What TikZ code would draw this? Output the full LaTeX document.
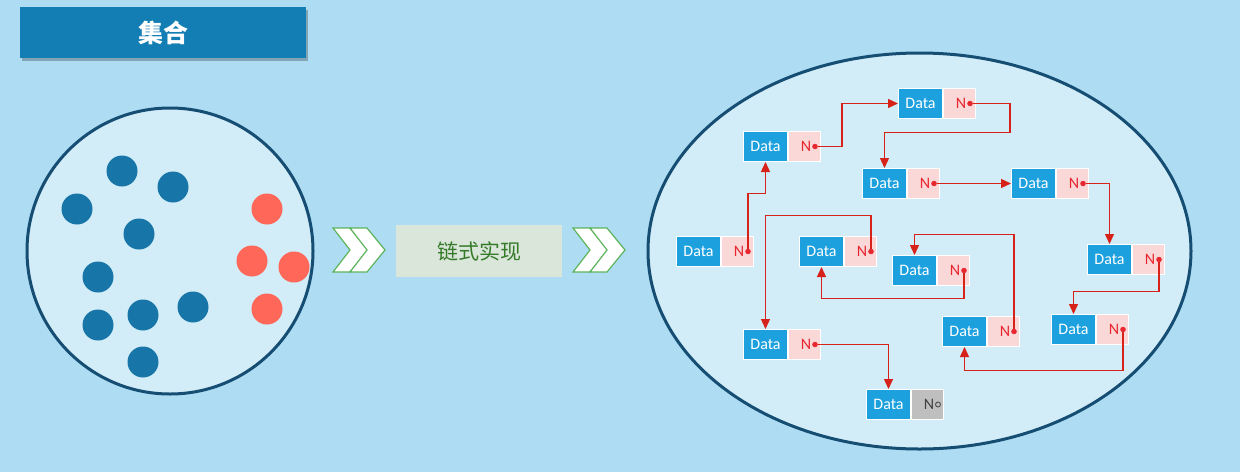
\documentclass[tikz,border=0pt]{standalone}
\usepackage{fontspec}
\setmainfont{Carlito}
\newfontfamily\cjk{Noto Sans CJK SC}
\usetikzlibrary{positioning,arrows.meta,shapes.geometric}

\definecolor{bgblue}{RGB}{174,221,243}
\definecolor{setfill}{RGB}{210,236,248}
\definecolor{rimblue}{RGB}{22,78,115}
\definecolor{ballblue}{RGB}{23,117,168}
\definecolor{ballred}{RGB}{255,103,88}
\definecolor{titleblue}{RGB}{19,126,180}
\definecolor{datablue}{RGB}{29,160,222}
\definecolor{nextpink}{RGB}{250,216,216}
\definecolor{linkred}{RGB}{214,34,24}
\definecolor{nred}{RGB}{232,38,48}
\definecolor{boxgreen}{RGB}{218,230,218}
\definecolor{chevgreen}{RGB}{92,180,92}
\definecolor{textgreen}{RGB}{52,122,40}
\definecolor{endgray}{RGB}{191,191,191}

\begin{document}
\begin{tikzpicture}[x=1pt,y=-1pt]
\tikzset{datapart/.style={draw=white, line width=1pt, fill=datablue, text=white, anchor=north west,
    minimum width=44pt, minimum height=30pt, inner sep=0pt, font=\fontsize{16}{16}\selectfont},
  nextpart/.style={draw=white, line width=1pt, fill=nextpink, text=nred,
    minimum width=32pt, minimum height=30pt, inner sep=0pt, font=\fontsize{16}{16}\selectfont},
  ptr/.style={circle, draw=nred, fill=nred, inner sep=0pt, minimum size=5pt},
  link/.style={draw=linkred, line width=1.3pt, -{Triangle[length=10pt,width=9pt]}},
  ball/.style={circle, inner sep=0pt, minimum size=31pt},
  chevron/.style={draw=chevgreen, fill=white, line width=1.2pt, line join=miter}}
    \useasboundingbox (0,0) rectangle (1240,472);
    \fill[bgblue] (0,0) rectangle (1240,472);

    % title
    \fill[black, opacity=.25] (22,10) rectangle (308,61);
    \node[fill=titleblue, minimum width=286pt, minimum height=51pt, inner sep=0pt, anchor=north west] (title) at (20,7)
      {\cjk\bfseries\color{white}\fontsize{25}{25}\selectfont 集合};

    % the set
    \node[circle, draw=rimblue, line width=3pt, fill=setfill, minimum size=286pt, inner sep=0pt] (set) at (170,251) {};
    \foreach \x/\y [count=\i] in {122/171,173/187,77/209,139/234,98/277,193/307,143/315,98/325,143/362}
      \node[ball, fill=ballblue] (b\i) at (\x,\y) {};
    \foreach \x/\y [count=\i] in {267/209,252/261,294/267,267/309}
      \node[ball, fill=ballred] (r\i) at (\x,\y) {};

    % chevrons and middle label
    \foreach \s in {333,350,573,590}
      \path[chevron] (\s,228) -- ++(17,0) -- ++(18,22) -- ++(-18,22) -- ++(-17,0) -- ++(17,-22) -- cycle;
    \node[fill=boxgreen, minimum width=166pt, minimum height=52pt, inner sep=0pt, anchor=north west] (impl) at (396,225)
      {\cjk\color{textgreen}\fontsize{21}{21}\selectfont 链式实现};

    % the linked list
    \node[ellipse, draw=rimblue, line width=3pt, fill=setfill, minimum width=543pt, minimum height=396pt, inner sep=0pt] (list) at (919.5,251) {};

    \node[datapart] (j) at (676,236) {Data};
    \node[nextpart, right=0pt of j] (jn) {\hspace*{3pt}N};
    \node[datapart] (a) at (743,131) {Data};
    \node[nextpart, right=0pt of a] (an) {\hspace*{3pt}N};
    \node[datapart] (b) at (898,88) {Data};
    \node[nextpart, right=0pt of b] (bn) {\hspace*{3pt}N};
    \node[datapart] (c) at (862,168) {Data};
    \node[nextpart, right=0pt of c] (cn) {\hspace*{3pt}N};
    \node[datapart] (d) at (1011,168) {Data};
    \node[nextpart, right=0pt of d] (dn) {\hspace*{3pt}N};
    \node[datapart] (e) at (1087,244) {Data};
    \node[nextpart, right=0pt of e] (en) {\hspace*{3pt}N};
    \node[datapart] (f) at (1051,314) {Data};
    \node[nextpart, right=0pt of f] (fn) {\hspace*{3pt}N};
    \node[datapart] (g) at (942,316) {Data};
    \node[nextpart, right=0pt of g] (gn) {\hspace*{3pt}N};
    \node[datapart] (h) at (892,255) {Data};
    \node[nextpart, right=0pt of h] (hn) {\hspace*{3pt}N};
    \node[datapart] (i) at (799,236) {Data};
    \node[nextpart, right=0pt of i] (in) {\hspace*{3pt}N};
    \node[datapart] (k) at (743,329) {Data};
    \node[nextpart, right=0pt of k] (kn) {\hspace*{3pt}N};
    \node[datapart] (l) at (866,389) {Data};
    \node[nextpart, right=0pt of l, fill=endgray, text=black!75] (ln) {\hspace*{3pt}N};

    \foreach \n in {j,a,b,c,d,e,f,g,h,i,k}
      \node[ptr] (\n p) at ([xshift=-6pt]\n n.east) {};
    \node[ptr, draw=black!70, fill=endgray, line width=.9pt, minimum size=5pt] (lp) at ([xshift=-6pt]ln.east) {};

    \path[link] (jp) -- ++(0,-58) -| (a.south);
    \path[link] (ap) -- ++(27,0) |- (b.west);
    \path[link] (bp) -- ++(40,0) -- ++(0,29) -| (c.north);
    \path[link] (cp) -- (d.west);
    \path[link] (dp) -| (e.north);
    \path[link] (ep) -- ++(0,32) -| (f.north);
    \path[link] (fp) -- ++(0,41) -| (g.south);
    \path[link] (gp) -- ++(0,-97) -| (h.north);
    \path[link] (hp) -- ++(0,28) -| (i.south);
    \path[link] (ip) -- ++(0,-36) -| (k.north);
    \path[link] (kp) -| (l.north);

  \end{tikzpicture}
\end{document}
